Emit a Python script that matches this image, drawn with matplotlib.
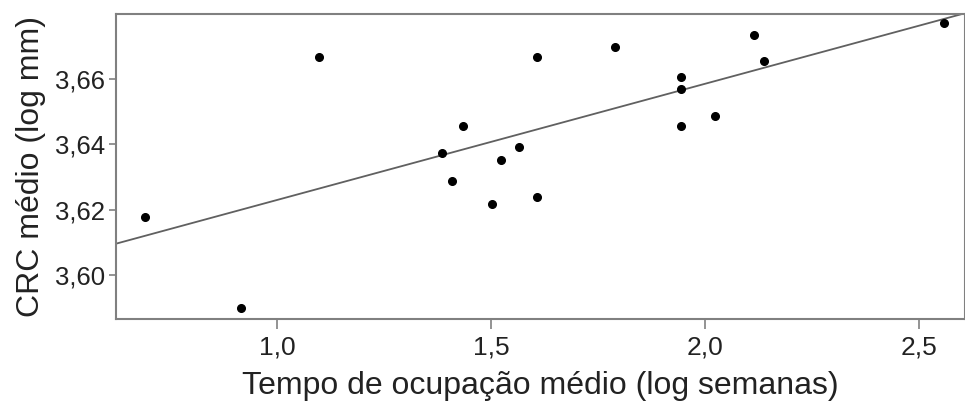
import numpy as np
import matplotlib
matplotlib.use("Agg")
import matplotlib.pyplot as plt

# tempo de ocupacao medio (log semanas) x CRC medio (log mm)
tempo = [0.692, 0.917, 1.099, 1.386, 1.410, 1.435, 1.503, 1.523, 1.565,
         1.607, 1.607, 1.789, 1.944, 1.944, 1.944, 2.024, 2.114, 2.138, 2.559]
crc = [3.6178, 3.5901, 3.6666, 3.6375, 3.6287, 3.6455, 3.6217, 3.6352, 3.6393,
       3.6240, 3.6666, 3.6699, 3.6605, 3.6570, 3.6455, 3.6486, 3.6733, 3.6655, 3.6770]

xticks = [1.0, 1.5, 2.0, 2.5]
yticks = [3.60, 3.62, 3.64, 3.66]

plt.rcParams['font.family'] = ['Liberation Sans', 'DejaVu Sans']

fig = plt.figure(figsize=(9.65, 4.07), dpi=100)
ax = fig.add_axes([0.120, 0.216, 0.880, 0.750])

# reta de regressao
a, b = np.polyfit(tempo, crc, 1)
xl = np.array([0.624, 2.607])
ax.plot(xl, a * xl + b, color='#606060', lw=1.3, zorder=1)

ax.plot(tempo, crc, 'o', color='black', ms=5.5, zorder=2)

ax.set_xlim(0.624, 2.607)
ax.set_ylim(3.5866, 3.6799)
ax.set_xticks(xticks)
ax.set_xticklabels([f"{v:.1f}".replace('.', ',') for v in xticks])
ax.set_yticks(yticks)
ax.set_yticklabels([f"{v:.2f}".replace('.', ',') for v in yticks])

for s in ax.spines.values():
    s.set_color('#808080')
    s.set_linewidth(1.5)

ax.tick_params(axis='x', length=7, width=1.2, color='#808080', labelsize=19,
               labelcolor='#222222', pad=5)
ax.tick_params(axis='y', length=5, width=1.2, color='#808080', labelsize=18.5,
               labelcolor='#222222', pad=3)

ax.set_xlabel('Tempo de ocupação médio (log semanas)', fontsize=23,
              color='#222222', labelpad=8)
ax.set_ylabel('CRC médio (log mm)', fontsize=23, color='#222222', labelpad=6)

fig.savefig('out.png', dpi=100)
